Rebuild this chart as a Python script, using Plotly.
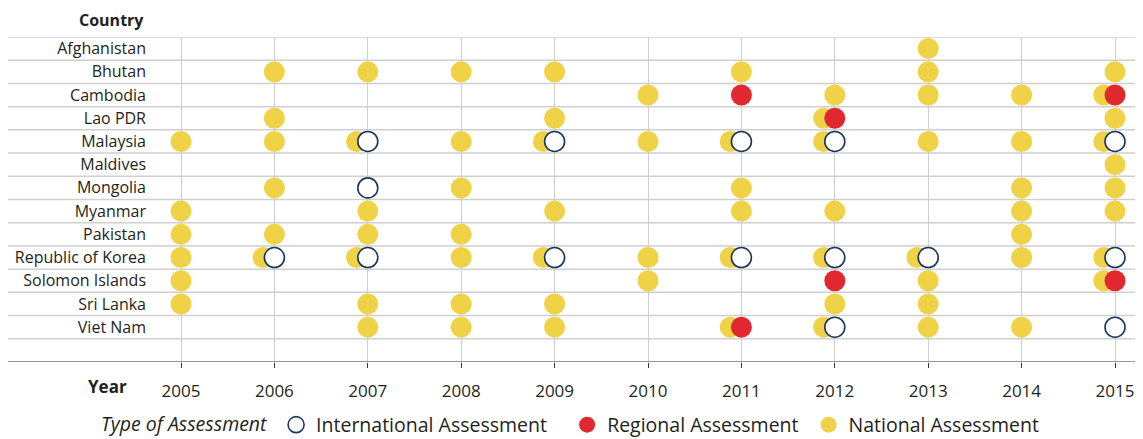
import plotly.graph_objects as go

countries = ["Afghanistan", "Bhutan", "Cambodia", "Lao PDR", "Malaysia", "Maldives",
             "Mongolia", "Myanmar", "Pakistan", "Republic of Korea", "Solomon Islands",
             "Sri Lanka", "Viet Nam"]
years = list(range(2005, 2016))

national = {
    "Afghanistan": [2013],
    "Bhutan": [2006, 2007, 2008, 2009, 2011, 2013, 2015],
    "Cambodia": [2010, 2012, 2013, 2014, 2015],
    "Lao PDR": [2006, 2009, 2012, 2015],
    "Malaysia": [2005, 2006, 2007, 2008, 2009, 2010, 2011, 2012, 2013, 2014, 2015],
    "Maldives": [2015],
    "Mongolia": [2006, 2008, 2011, 2014, 2015],
    "Myanmar": [2005, 2007, 2009, 2011, 2012, 2014, 2015],
    "Pakistan": [2005, 2006, 2007, 2008, 2014],
    "Republic of Korea": [2005, 2006, 2007, 2008, 2009, 2010, 2011, 2012, 2013, 2014, 2015],
    "Solomon Islands": [2005, 2010, 2013, 2015],
    "Sri Lanka": [2005, 2007, 2008, 2009, 2012, 2013],
    "Viet Nam": [2007, 2008, 2009, 2011, 2012, 2013, 2014],
}
international = {
    "Malaysia": [2007, 2009, 2011, 2012, 2015],
    "Mongolia": [2007],
    "Republic of Korea": [2006, 2007, 2009, 2011, 2012, 2013, 2015],
    "Viet Nam": [2012, 2015],
}
regional = {
    "Cambodia": [2011, 2015],
    "Lao PDR": [2012],
    "Solomon Islands": [2012, 2015],
    "Viet Nam": [2011],
}

YELLOW = "#F0D246"
RED = "#E0282E"
NAVY = "#1B365D"
TXT = "#231F20"
FONT = "Open Sans"
SHIFT = 0.12
NB = "\u00a0"


def pts(d):
    xs, ys = [], []
    for c, yrs in d.items():
        for y in yrs:
            xs.append(y)
            ys.append(countries.index(c))
    return xs, ys


nx, ny = [], []
for c, yrs in national.items():
    for y in yrs:
        overlap = y in international.get(c, []) or y in regional.get(c, [])
        nx.append(y - SHIFT if overlap else y)
        ny.append(countries.index(c))
ix, iy = pts(international)
rx, ry = pts(regional)

fig = go.Figure()
fig.add_trace(go.Scatter(x=nx, y=ny, mode="markers", name="National Assessment",
                         legendrank=3,
                         marker=dict(size=21, color=YELLOW, line=dict(width=0))))
fig.add_trace(go.Scatter(x=ix, y=iy, mode="markers", name="International Assessment" + NB * 3,
                         legendrank=1,
                         marker=dict(size=20, color="white", line=dict(width=1.6, color=NAVY))))
fig.add_trace(go.Scatter(x=rx, y=ry, mode="markers", name="Regional Assessment" + NB,
                         legendrank=2,
                         marker=dict(size=21, color=RED, line=dict(width=0))))

# page body adds an 8px offset; figure coordinates = target pixel - 8
OFF = 8
W, H = 1143 - OFF, 439 - OFF
T = 37 - OFF
BOT = 362 - OFF
L, R = 150 - OFF, 0
B = H - BOT
pw = W - L - R
ph = BOT - T
left_paper = (8 - OFF - L) / pw


def px_x(p):
    return (p - OFF - L) / pw


def px_y(p):
    return (BOT - (p - OFF)) / ph


shapes = []
for i in range(len(countries) + 1):
    shapes.append(dict(type="line", xref="paper", yref="y", x0=left_paper, x1=1,
                       y0=i - 0.5, y1=i - 0.5, line=dict(color="#CFCFCF", width=1.5),
                       layer="below"))
shapes.append(dict(type="line", xref="paper", yref="y", x0=left_paper, x1=1,
                   y0=len(countries) + 0.5, y1=len(countries) + 0.5,
                   line=dict(color="#333333", width=1.2)))

fig.update_layout(
    width=W, height=H,
    margin=dict(l=L, r=R, t=T, b=B, autoexpand=False),
    paper_bgcolor="white", plot_bgcolor="white",
    font=dict(family=FONT, color=TXT, size=16),
    shapes=shapes,
    showlegend=True,
    legend=dict(orientation="h", x=px_x(99), xanchor="left",
                y=px_y(425), yanchor="middle",
                font=dict(size=19.5, color=TXT, family=FONT),
                title=dict(text="<i>Type of Assessment</i>", side="left",
                           font=dict(size=19.5, color=TXT, family=FONT)),
                itemsizing="trace"),
    annotations=[
        dict(text="<b>Country</b>", xref="paper", yref="paper", x=px_x(146),
             y=px_y(20), xanchor="right", yanchor="middle", showarrow=False,
             font=dict(size=16, color=TXT, family=FONT)),
        dict(text="<b>Year</b>", xref="paper", yref="paper", x=px_x(129),
             y=px_y(386), xanchor="right", yanchor="middle", showarrow=False,
             font=dict(size=17, color=TXT, family=FONT)),
    ],
)
fig.update_xaxes(range=[2005 - 31 / 93.4, 2015 + 28 / 93.4], tickvals=years,
                 showgrid=True, gridcolor="#CFCFCF", gridwidth=1, zeroline=False,
                 showline=False, ticks="outside", ticklen=5, tickcolor="#333333",
                 ticklabelstandoff=9,
                 tickfont=dict(size=17, color=TXT, family=FONT), fixedrange=True)
fig.update_yaxes(range=[len(countries) + 0.5, -0.5], tickvals=list(range(len(countries))),
                 ticktext=countries, showgrid=False, zeroline=False, showline=False,
                 ticks="", ticklabelstandoff=3,
                 tickfont=dict(size=16, color=TXT, family=FONT), fixedrange=True)

fig.write_html("out.html")
